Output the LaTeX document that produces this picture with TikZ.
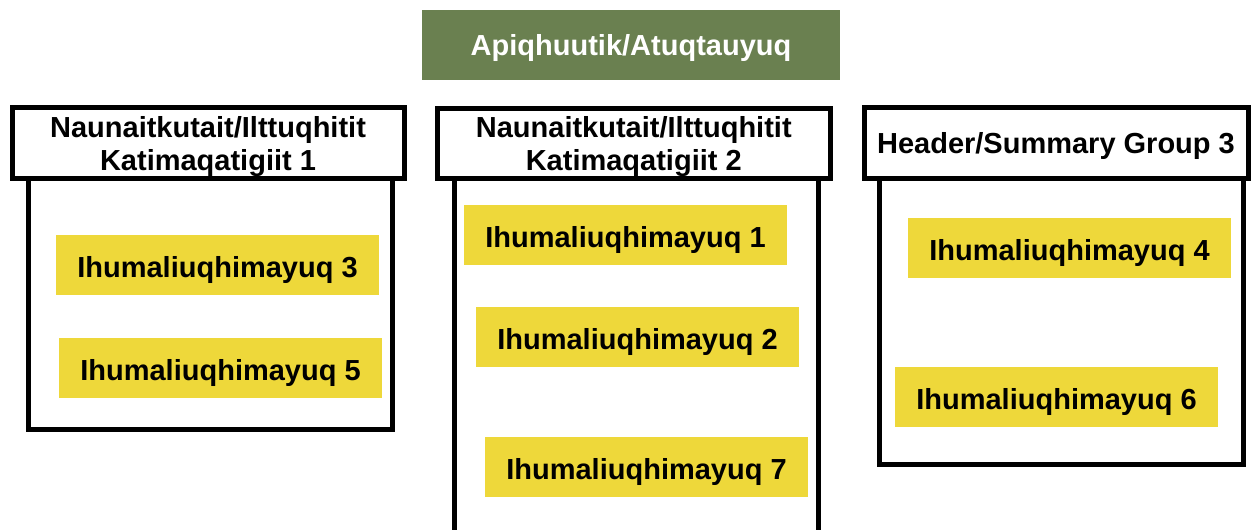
\documentclass[tikz,border=0pt]{standalone}
\usepackage{fontspec}
\setmainfont{Liberation Sans}
\definecolor{titlegreen}{RGB}{106,128,80}
\definecolor{itemyellow}{RGB}{238,216,58}
\tikzset{
    labelfont/.style={font=\fontsize{21.75pt}{24.75pt}\selectfont\bfseries},
    titlebox/.style={labelfont, fill=titlegreen, text=white, inner sep=0pt,
        text depth=0pt, minimum width=313.5pt, minimum height=52.5pt},
    groupbox/.style={labelfont, draw, line width=3.75pt, fill=white, inner sep=0pt,
        align=center, text depth=0pt, minimum height=53.25pt},
    itembox/.style={labelfont, fill=itemyellow, inner sep=0pt,
        text height=18.8pt, text depth=0pt, minimum width=242.25pt, minimum height=45pt},
    frame/.style={draw, line width=3.75pt}
}

\begin{document}
\begin{tikzpicture}[x=0.75pt,y=-0.75pt]
    \useasboundingbox (0,0) rectangle (1256,529);
    \clip (0,0) rectangle (1256,529);

    % column frames, under the headers
    \draw [frame] (28.5,178) rectangle (392,429);
    \draw [frame] (454,178) -- (454,545) -- (818,545) -- (818,178);
    \draw [frame] (879,178) rectangle (1243,464);

    \node [titlebox] (title) at (631,45) {Apiqhuutik/Atuqtauyuq};

    \node [groupbox, minimum width=294pt] (groupA) at (208,143)
        {Naunaitkutait/Ilttuqhitit\\Katimaqatigiit 1};
    \node [groupbox, minimum width=294.4pt, minimum height=52.5pt] (groupB) at (633.75,143)
        {Naunaitkutait/Ilttuqhitit\\Katimaqatigiit 2};
    \node [groupbox, minimum width=288pt] (groupC) at (1056,143)
        {Header/Summary Group 3};

    \node [itembox] (item3) at (217.5,265) {Ihumaliuqhimayuq 3};
    \node [itembox] (item5) at (220.5,367.5) {Ihumaliuqhimayuq 5};

    \node [itembox] (item1) at (625.5,235) {Ihumaliuqhimayuq 1};
    \node [itembox] (item2) at (637.5,337) {Ihumaliuqhimayuq 2};
    \node [itembox] (item7) at (646.5,467) {Ihumaliuqhimayuq 7};

    \node [itembox] (item4) at (1069.5,248) {Ihumaliuqhimayuq 4};
    \node [itembox] (item6) at (1056.5,397) {Ihumaliuqhimayuq 6};
\end{tikzpicture}
\end{document}
